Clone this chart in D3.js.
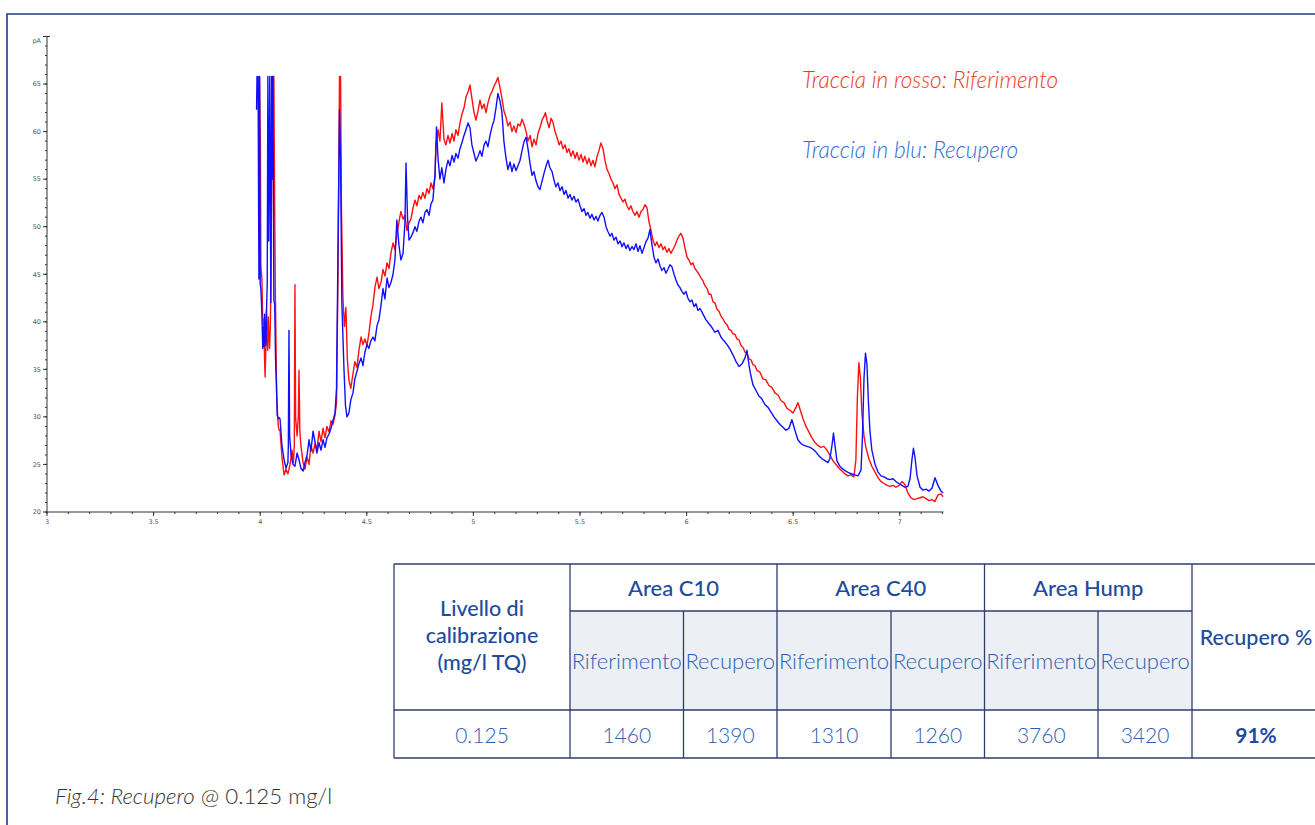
<!DOCTYPE html>
<html>
<head>
<meta charset="utf-8">
<script src="https://cdn.jsdelivr.net/npm/d3@7"></script>
<style>
  html, body { margin: 0; padding: 0; background: #ffffff; }
  svg { display: block; }
</style>
</head>
<body>
<svg id="chart" width="1315" height="825"></svg>
<script>
// ---------------- DATA ----------------
// Retention time (min) / signal (pA)
const riferimento = [
[3.997,65.8],[3.999,62],[4.001,58.5],[4.003,46],[4.005,45.3],[4.008,44.5],[4.011,41],[4.014,39.5],[4.017,40.3],[4.020,36.5],[4.023,34.2],[4.026,36.8],[4.029,41.2],[4.032,39],[4.035,37],[4.038,40.5],[4.041,38.5],[4.044,37.2],[4.048,40],[4.052,50],[4.056,58.5],[4.060,65.8],[4.064,65.8],[4.068,52],[4.071,43],[4.074,38],[4.077,32.5],[4.081,30.5],[4.085,29.0],[4.089,28.6],
[4.093,28.6],[4.102,25.8],[4.112,23.9],[4.121,24.5],[4.130,24.0],[4.140,25.0],[4.149,26.5],[4.156,25.2],[4.160,27],[4.163,43.9],[4.166,30],[4.173,28],[4.179,30],[4.182,34.9],[4.186,28.5],[4.191,27],[4.201,25.2],[4.210,24.5],[4.220,25.8],[4.229,25.0],[4.238,27.0],[4.248,26.2],[4.257,27.2],[4.266,26.5],[4.276,28.5],[4.285,27.4],[4.295,28.8],[4.304,27.8],[4.313,29.0],[4.323,28.4],[4.332,29.6],[4.341,29.2],[4.351,30.2],[4.358,31.5],[4.365,45],[4.372,65.8],[4.377,65.8],[4.381,52],[4.388,42.5],[4.395,39.5],[4.402,41.5],[4.409,36],[4.416,33.9],[4.425,33.0],[4.435,34.5],[4.444,35.8],[4.454,35.2],[4.463,37.0],[4.473,38.4],[4.482,37.6],[4.491,38.2],[4.501,37.5],[4.510,38.8],[4.519,40.5],[4.529,41.8],[4.538,43.6],[4.548,44.7],[4.557,43.5],[4.567,44.2],[4.576,45.5],[4.585,44.8],[4.595,46.2],[4.604,45.6],[4.613,47.2],[4.623,48.3],[4.632,47.6],[4.641,49.2],[4.651,50.5],[4.660,51.6],[4.670,50.8],[4.679,51.2],[4.688,49.6],[4.698,50.4],[4.707,50.8],[4.717,52.0],[4.726,52.8],[4.735,52.2],[4.745,53.3],[4.754,52.9],[4.763,53.6],[4.773,53.0],[4.782,54.0],[4.792,53.5],[4.801,54.6],[4.810,54.0],[4.820,55.2],[4.824,58.5],[4.834,60.2],[4.843,59.0],[4.852,63.0],[4.862,59.2],[4.871,58.6],[4.881,59.6],[4.890,58.8],[4.900,59.8],[4.909,59.0],[4.918,60.2],[4.928,59.6],[4.937,60.9],[4.946,61.8],[4.956,62.5],[4.965,63.6],[4.975,64.2],[4.984,64.9],[4.993,63.5],[5.003,62.0],[5.012,61.2],[5.022,62.2],[5.031,63.3],[5.040,62.4],[5.050,62.9],[5.059,62.0],[5.068,63.0],[5.078,63.8],[5.087,64.2],[5.097,64.8],[5.106,65.2],[5.115,65.7],[5.125,64.6],[5.134,63.5],[5.143,62.2],[5.153,61.5],[5.162,60.6],[5.172,61.0],[5.181,60.0],[5.190,60.6],[5.200,59.9],[5.209,60.8],[5.219,60.6],[5.228,61.3],[5.237,60.8],[5.247,60.0],[5.256,59.0],[5.266,59.6],[5.275,58.4],[5.284,59.2],[5.294,58.6],[5.303,59.8],[5.312,60.4],[5.322,61.2],[5.331,61.6],[5.338,62.0],[5.345,61.2],[5.355,60.4],[5.364,61.4],[5.373,61.0],[5.383,60.0],[5.392,59.4],[5.402,58.6],[5.411,59.0],[5.420,58.2],[5.430,58.6],[5.439,57.8],[5.448,58.2],[5.458,57.4],[5.467,58.0],[5.477,57.2],[5.486,57.8],[5.495,57.0],[5.505,57.6],[5.514,56.8],[5.523,57.4],[5.533,56.6],[5.542,57.2],[5.552,56.4],[5.561,57.0],[5.570,56.3],[5.580,57.4],[5.589,58.0],[5.598,58.8],[5.608,58.2],[5.617,57.0],[5.627,56.0],[5.636,55.6],[5.645,55.0],[5.655,54.6],[5.664,54.0],[5.674,54.4],[5.683,53.4],[5.692,53.0],[5.702,52.6],[5.711,52.9],[5.720,52.2],[5.730,51.8],[5.739,52.2],[5.748,51.6],[5.758,51.2],[5.767,51.6],[5.777,51.0],[5.786,51.6],[5.795,51.8],[5.805,52.3],[5.814,52.0],[5.823,50.6],[5.833,49.6],[5.842,48.6],[5.852,48.0],[5.861,48.4],[5.870,47.8],[5.880,48.2],[5.889,47.6],[5.898,47.9],[5.908,47.3],[5.917,47.7],[5.926,47.2],[5.936,47.6],[5.945,48.0],[5.955,48.6],[5.964,49.0],[5.973,49.3],[5.983,48.8],[5.992,47.8],[6.002,46.8],[6.011,46.5],[6.021,46.0],[6.030,46.2],[6.039,45.6],[6.049,45.3],[6.058,45.0],[6.068,44.6],[6.077,44.3],[6.086,43.8],[6.096,43.5],[6.105,42.9],[6.114,42.9],[6.124,42.1],[6.133,42.0],[6.143,41.3],[6.152,41.1],[6.161,40.6],[6.171,40.3],[6.180,39.9],[6.190,39.7],[6.199,39.2],[6.208,39.1],[6.218,38.7],[6.227,38.7],[6.236,38.2],[6.246,38.1],[6.255,37.5],[6.265,37.3],[6.274,36.8],[6.283,36.7],[6.293,36.1],[6.302,36.0],[6.311,35.5],[6.321,35.4],[6.330,34.9],[6.344,34.7],[6.358,34.0],[6.372,33.9],[6.386,33.3],[6.400,33.1],[6.415,32.5],[6.429,32.3],[6.443,31.7],[6.457,31.5],[6.471,30.9],[6.485,30.7],[6.499,30.4],[6.513,31.0],[6.522,31.5],[6.532,30.8],[6.546,29.8],[6.560,29.0],[6.574,28.4],[6.588,27.8],[6.602,27.3],[6.616,27.0],[6.630,26.8],[6.644,26.9],[6.658,26.5],[6.672,26.0],[6.686,25.4],[6.701,25.0],[6.715,24.6],[6.729,24.3],[6.743,24.0],[6.757,23.8],[6.771,23.9],[6.785,23.7],[6.794,25.5],[6.801,32],[6.808,35.7],[6.815,34.2],[6.822,30.5],[6.832,28],[6.841,26.8],[6.855,25.6],[6.869,24.8],[6.884,24.2],[6.898,23.6],[6.912,23.2],[6.926,23.0],[6.940,22.8],[6.954,22.7],[6.968,22.8],[6.982,22.6],[6.996,22.8],[7.010,23.2],[7.024,22.9],[7.038,22.0],[7.052,21.5],[7.067,21.3],[7.081,21.4],[7.095,21.5],[7.109,21.6],[7.123,21.4],[7.137,21.2],[7.151,21.3],[7.165,21.1],[7.179,21.8],[7.193,21.9],[7.203,21.6]
];

const recupero = [
[3.983,62.3],[3.985,65.8],[3.988,63.6],[3.990,65.8],[3.994,44.5],[3.997,65.8],[4.000,44.0],[4.003,43.5],[4.006,42.0],[4.009,40.0],[4.012,37.2],[4.015,39.4],[4.018,37.4],[4.021,40.8],[4.024,38.2],[4.027,37.5],[4.030,41.5],[4.033,44],[4.036,65.8],[4.040,48.5],[4.045,65.8],[4.050,42],[4.054,65.8],[4.057,55],[4.060,65.8],[4.064,42.3],[4.068,41.8],[4.072,36],[4.076,33.5],[4.080,30.2],[4.085,29.8],[4.090,29.9],
[4.093,29.8],[4.102,27.0],[4.112,25.5],[4.121,24.6],[4.130,25.2],[4.132,27],[4.135,39.1],[4.138,28],[4.145,26.0],[4.154,25.0],[4.163,24.8],[4.173,26.2],[4.182,25.5],[4.191,24.6],[4.201,24.3],[4.210,25.2],[4.220,26.0],[4.229,27.6],[4.238,26.4],[4.248,28.5],[4.257,27.4],[4.266,26.2],[4.276,27.3],[4.285,26.5],[4.295,27.6],[4.304,26.8],[4.313,27.8],[4.323,28.2],[4.332,28.8],[4.341,29.6],[4.351,30.4],[4.358,33],[4.365,48],[4.372,62.3],[4.377,57],[4.383,42],[4.393,35],[4.400,31.2],[4.407,30.0],[4.416,30.4],[4.425,31.8],[4.435,32.5],[4.444,34.0],[4.454,34.8],[4.463,35.6],[4.473,36.2],[4.482,35.4],[4.491,36.8],[4.501,37.6],[4.510,37.2],[4.519,38.0],[4.529,38.4],[4.538,38.0],[4.548,39.6],[4.557,40.2],[4.567,41.8],[4.576,43.5],[4.585,42.4],[4.595,44.6],[4.604,43.6],[4.613,44.1],[4.623,45.0],[4.632,46.5],[4.641,50.7],[4.651,48.0],[4.660,46.5],[4.670,47.2],[4.679,50.5],[4.684,56.7],[4.691,51],[4.698,48.6],[4.707,48.9],[4.717,49.4],[4.726,50.0],[4.735,49.5],[4.745,50.6],[4.754,51.0],[4.763,50.4],[4.773,51.5],[4.782,51.8],[4.792,51.2],[4.801,52.4],[4.810,52.8],[4.820,55.5],[4.827,60.5],[4.834,57.2],[4.843,55.0],[4.852,56.2],[4.862,54.6],[4.871,56.0],[4.881,57.0],[4.890,56.4],[4.900,57.5],[4.909,56.8],[4.918,57.7],[4.928,57.2],[4.937,58.2],[4.946,58.8],[4.956,59.6],[4.965,60.2],[4.975,60.9],[4.984,60.4],[4.993,58.6],[5.003,57.7],[5.012,56.9],[5.022,57.4],[5.031,58.0],[5.040,57.4],[5.050,58.6],[5.059,59.0],[5.068,58.4],[5.078,59.6],[5.087,60.5],[5.097,61.2],[5.106,62.5],[5.115,64.0],[5.125,63.2],[5.134,62.0],[5.143,59.0],[5.153,57.2],[5.162,56.0],[5.172,56.8],[5.181,55.8],[5.190,56.6],[5.200,55.9],[5.209,56.4],[5.219,57.0],[5.228,58.0],[5.237,58.9],[5.247,59.4],[5.256,58.2],[5.266,56.6],[5.275,55.4],[5.284,55.8],[5.294,54.8],[5.303,54.2],[5.312,53.9],[5.322,54.8],[5.331,55.6],[5.341,56.4],[5.350,57.0],[5.359,56.2],[5.369,55.8],[5.378,54.9],[5.387,54.2],[5.397,54.6],[5.406,53.8],[5.416,54.2],[5.425,53.4],[5.434,53.8],[5.444,53.0],[5.453,53.4],[5.462,52.8],[5.472,53.2],[5.481,52.6],[5.491,52.9],[5.500,52.2],[5.509,51.6],[5.519,51.9],[5.528,51.2],[5.537,51.5],[5.547,50.9],[5.556,51.3],[5.566,50.7],[5.575,51.1],[5.584,50.6],[5.594,51.2],[5.603,51.5],[5.613,51.0],[5.622,50.0],[5.631,49.5],[5.641,49.0],[5.650,49.3],[5.659,48.6],[5.669,48.9],[5.678,48.2],[5.688,48.5],[5.697,47.9],[5.706,48.3],[5.716,47.7],[5.725,48.1],[5.734,47.5],[5.744,47.9],[5.753,47.6],[5.763,48.2],[5.772,47.4],[5.781,48.0],[5.791,47.2],[5.800,47.8],[5.809,48.4],[5.819,48.8],[5.828,49.7],[5.837,48.2],[5.847,46.8],[5.856,46.2],[5.866,46.6],[5.875,45.9],[5.884,45.4],[5.894,45.7],[5.903,45.1],[5.912,45.5],[5.922,46.0],[5.931,45.8],[5.941,45.0],[5.950,44.4],[5.959,43.9],[5.969,43.6],[5.978,43.2],[5.988,42.9],[5.997,43.2],[6.006,42.5],[6.016,42.1],[6.025,42.3],[6.035,41.6],[6.044,41.9],[6.053,41.2],[6.063,41.4],[6.077,40.8],[6.091,40.2],[6.105,39.8],[6.119,39.4],[6.133,38.9],[6.147,39.1],[6.161,38.4],[6.175,38.0],[6.190,37.6],[6.204,37.1],[6.218,36.5],[6.232,35.8],[6.246,35.3],[6.260,35.6],[6.274,36.2],[6.283,37.0],[6.293,35.4],[6.302,34.3],[6.311,33.4],[6.325,32.8],[6.339,32.2],[6.353,31.9],[6.367,31.3],[6.382,31.0],[6.396,30.5],[6.410,30.0],[6.424,29.6],[6.438,29.2],[6.452,28.9],[6.466,28.6],[6.480,28.8],[6.494,29.7],[6.508,28.6],[6.522,27.6],[6.536,27.2],[6.550,27.0],[6.565,26.9],[6.579,26.8],[6.593,26.6],[6.607,26.3],[6.621,25.9],[6.635,25.6],[6.649,25.4],[6.663,25.2],[6.672,25.6],[6.682,27.0],[6.689,28.3],[6.696,27.0],[6.705,25.4],[6.719,24.8],[6.733,24.5],[6.747,24.3],[6.762,24.1],[6.776,24.0],[6.790,23.9],[6.804,23.8],[6.818,24.4],[6.825,28],[6.832,34],[6.839,36.7],[6.846,35.5],[6.853,31.5],[6.860,28.5],[6.869,26.5],[6.884,25.0],[6.898,24.2],[6.912,23.8],[6.926,23.7],[6.940,23.5],[6.954,23.4],[6.968,23.5],[6.982,23.2],[6.996,23.0],[7.010,22.8],[7.024,22.6],[7.038,22.7],[7.048,23.5],[7.057,25.5],[7.064,26.7],[7.071,25.8],[7.081,23.8],[7.095,22.6],[7.109,22.3],[7.123,22.4],[7.137,22.2],[7.151,22.5],[7.165,23.6],[7.179,22.8],[7.193,22.2],[7.203,22.0]
];

const xTicks = [3, 3.5, 4, 4.5, 5, 5.5, 6, 6.5, 7];
const xTickLabels = ["3", "3.5", "4", "4.5", "5", "5.5", "6", "6.5", "7"];
const yTicks = [20, 25, 30, 35, 40, 45, 50, 55, 60, 65, 70];
const yTickLabels = ["20", "25", "30", "35", "40", "45", "50", "55", "60", "65", "pA"];

const legendLabels = ["Traccia in rosso: Riferimento", "Traccia in blu: Recupero"];

const levelHeader = ["Livello di", "calibrazione", "(mg/l TQ)"];
const areaGroups = ["Area C10", "Area C40", "Area Hump"];
const subHeaders = ["Riferimento", "Recupero"];
const levelValue = "0.125";
const areaValues = ["1460", "1390", "1310", "1260", "3760", "3420"];
const recoveryHeader = "Recupero %";
const recoveryValue = "91%";

const captionItalic = "Fig.4: Recupero";
const captionRest = " @ 0.125 mg/l";

// ---------------- DRAW ----------------
const svg = d3.select("#chart");
const FONT = "Lato, 'Open Sans', sans-serif";

// outer frame
svg.append("path")
  .attr("d", "M7,825 L7,14 L1315,14")
  .attr("fill", "none")
  .attr("stroke", "#1c3d80")
  .attr("stroke-width", 1.6);

const x = d3.scaleLinear().domain([3, 7.205]).range([47, 943.5]);
const y = d3.scaleLinear().domain([20, 70]).range([512, 36.5]);

// minor ticks
const xMinor = d3.range(30, 73).map(d => d / 10).filter(d => x(d) <= 944);
const yMinor = d3.range(20, 71);

const axisColor = "#333";
const gx = svg.append("g").attr("transform", "translate(0,512)");
gx.append("line").attr("x1", 47).attr("x2", 943.5).attr("y1", 0).attr("y2", 0)
  .attr("stroke", axisColor).attr("stroke-width", 1);
gx.selectAll("line.minor").data(xMinor).join("line").attr("class", "minor")
  .attr("x1", d => x(d)).attr("x2", d => x(d)).attr("y1", 0).attr("y2", 2)
  .attr("stroke", axisColor).attr("stroke-width", 1);
gx.selectAll("line.major").data(xTicks).join("line").attr("class", "major")
  .attr("x1", d => x(d)).attr("x2", d => x(d)).attr("y1", 0).attr("y2", 4)
  .attr("stroke", axisColor).attr("stroke-width", 1);
gx.selectAll("text").data(xTicks).join("text")
  .attr("x", d => x(d)).attr("y", 12)
  .attr("text-anchor", "middle")
  .attr("font-family", "'DejaVu Sans', sans-serif")
  .attr("font-size", 6.5)
  .attr("fill", "#555")
  .text((d, i) => xTickLabels[i]);

const gy = svg.append("g").attr("transform", "translate(47,0)");
gy.append("line").attr("x1", 0).attr("x2", 0).attr("y1", y(70)).attr("y2", 512)
  .attr("stroke", axisColor).attr("stroke-width", 1);
gy.selectAll("line.minor").data(yMinor).join("line").attr("class", "minor")
  .attr("x1", -2).attr("x2", 0).attr("y1", d => y(d)).attr("y2", d => y(d))
  .attr("stroke", axisColor).attr("stroke-width", 1);
gy.selectAll("line.major").data(yTicks).join("line").attr("class", "major")
  .attr("x1", -4).attr("x2", 0).attr("y1", d => y(d)).attr("y2", d => y(d))
  .attr("stroke", axisColor).attr("stroke-width", 1);
gy.append("line").attr("x1", 0).attr("x2", 3).attr("y1", y(70)).attr("y2", y(70))
  .attr("stroke", axisColor).attr("stroke-width", 1);
gy.selectAll("text").data(yTicks).join("text")
  .attr("x", -6).attr("y", d => y(d) + 2.3 + (d === 70 ? 4 : 0))
  .attr("text-anchor", "end")
  .attr("font-family", "'DejaVu Sans', sans-serif")
  .attr("font-size", 6.5)
  .attr("fill", "#555")
  .text((d, i) => yTickLabels[i]);

// traces
const line = d3.line().x(d => x(d[0])).y(d => y(d[1]));
svg.append("path").datum(riferimento)
  .attr("d", line).attr("fill", "none")
  .attr("stroke", "#ff1010").attr("stroke-width", 1.4)
  .attr("stroke-linejoin", "round");
svg.append("path").datum(recupero)
  .attr("d", line).attr("fill", "none")
  .attr("stroke", "#1010ff").attr("stroke-width", 1.4)
  .attr("stroke-linejoin", "round");

// legend
const legendColors = ["#ee3b22", "#2f6fd8"];
const legendY = [88, 158];
svg.selectAll("text.legend").data(legendLabels).join("text").attr("class", "legend")
  .attr("x", 802).attr("y", (d, i) => legendY[i])
  .attr("font-family", FONT).attr("font-style", "italic").attr("font-weight", 300)
  .attr("font-size", 22.6)
  .attr("fill", (d, i) => legendColors[i])
  .text(d => d);

// ---------------- TABLE ----------------
const T = { left: 394, top: 564, r1: 611, r2: 710, bottom: 758, right: 1320 };
const colX = [394, 570, 683.5, 777, 891, 984.5, 1098, 1192, 1320];
const lineColor = "#2e3c70";
const headColor = "#1d4c9c";
const lightColor = "#2b5fb3";

const tbl = svg.append("g");
tbl.append("rect").attr("x", colX[1]).attr("y", T.r1)
  .attr("width", colX[7] - colX[1]).attr("height", T.r2 - T.r1)
  .attr("fill", "#eceff3");

const hLines = [
  [T.left, T.right, T.top], [colX[1], colX[7], T.r1],
  [T.left, T.right, T.r2], [T.left, T.right, T.bottom]
];
tbl.selectAll("line.h").data(hLines).join("line").attr("class", "h")
  .attr("x1", d => d[0]).attr("x2", d => d[1]).attr("y1", d => d[2]).attr("y2", d => d[2])
  .attr("stroke", lineColor).attr("stroke-width", 1.3);
const vLines = [
  [colX[0], T.top], [colX[1], T.top], [colX[3], T.top], [colX[5], T.top], [colX[7], T.top],
  [colX[2], T.r1], [colX[4], T.r1], [colX[6], T.r1]
];
tbl.selectAll("line.v").data(vLines).join("line").attr("class", "v")
  .attr("x1", d => d[0]).attr("x2", d => d[0]).attr("y1", d => d[1]).attr("y2", T.bottom)
  .attr("stroke", lineColor).attr("stroke-width", 1.3);

// level header
tbl.selectAll("text.lvl").data(levelHeader).join("text").attr("class", "lvl")
  .attr("x", (colX[0] + colX[1]) / 2).attr("y", (d, i) => 616 + i * 27)
  .attr("text-anchor", "middle")
  .attr("font-family", FONT).attr("font-weight", 500).attr("font-size", 21.5)
  .attr("fill", headColor).text(d => d);

// group headers
tbl.selectAll("text.grp").data(areaGroups).join("text").attr("class", "grp")
  .attr("x", (d, i) => (colX[1 + 2 * i] + colX[3 + 2 * i]) / 2).attr("y", 596)
  .attr("text-anchor", "middle")
  .attr("font-family", FONT).attr("font-weight", 500).attr("font-size", 22)
  .attr("fill", headColor).text(d => d);

// sub headers
const subs = areaGroups.flatMap(() => subHeaders);
tbl.selectAll("text.sub").data(subs).join("text").attr("class", "sub")
  .attr("x", (d, i) => (colX[1 + i] + colX[2 + i]) / 2).attr("y", 669)
  .attr("text-anchor", "middle")
  .attr("font-family", FONT).attr("font-weight", 300).attr("font-size", 22)
  .attr("fill", lightColor).text(d => d);

// recovery header
tbl.append("text")
  .attr("x", (colX[7] + colX[8]) / 2).attr("y", 645)
  .attr("text-anchor", "middle")
  .attr("font-family", FONT).attr("font-weight", 500).attr("font-size", 21.5)
  .attr("fill", headColor).text(recoveryHeader);

// data row
const rowVals = [levelValue].concat(areaValues);
const rowX = [(colX[0] + colX[1]) / 2].concat(areaValues.map((d, i) => (colX[1 + i] + colX[2 + i]) / 2));
tbl.selectAll("text.val").data(rowVals).join("text").attr("class", "val")
  .attr("x", (d, i) => rowX[i]).attr("y", 743)
  .attr("text-anchor", "middle")
  .attr("font-family", FONT).attr("font-weight", 300).attr("font-size", 21)
  .attr("fill", lightColor).text(d => d);
tbl.append("text")
  .attr("x", (colX[7] + colX[8]) / 2).attr("y", 743)
  .attr("text-anchor", "middle")
  .attr("font-family", FONT).attr("font-weight", 700).attr("font-size", 21)
  .attr("fill", headColor).text(recoveryValue);

// caption
const cap = svg.append("text").attr("x", 55).attr("y", 804)
  .attr("font-family", FONT).attr("font-weight", 300).attr("font-size", 22.3)
  .attr("fill", "#333");
cap.append("tspan").attr("font-style", "italic").text(captionItalic);
cap.append("tspan").text(captionRest);
</script>
</body>
</html>
